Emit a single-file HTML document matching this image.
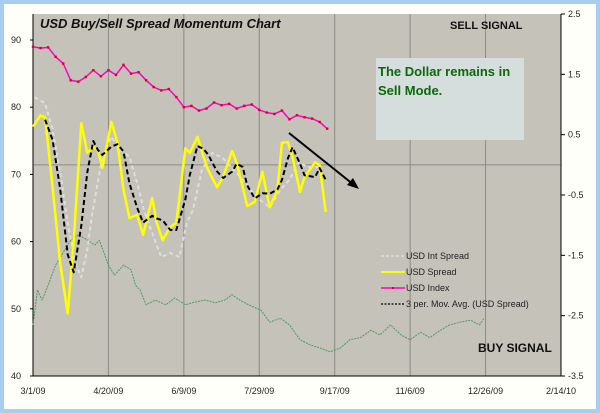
<!DOCTYPE html>
<html><head><meta charset="utf-8"><style>
html,body{margin:0;padding:0;background:#a8cdf0;}
svg{display:block;font-family:"Liberation Sans",sans-serif;}
</style></head><body>
<svg id="chart" width="600" height="413" viewBox="0 0 600 413">
<rect x="4" y="4" width="592" height="405" fill="#fffffa"/>
<rect x="33" y="14" width="528" height="362" fill="#c4c2b9"/>
<g id="grid"></g>
<g id="axes"></g>
<g id="series"></g>
<text x="40" y="28" font-size="13" font-weight="bold" font-style="italic" fill="#111">USD Buy/Sell Spread Momentum Chart</text>
<text x="450" y="29" font-size="11" font-weight="bold" fill="#111">SELL SIGNAL</text>
<text x="478" y="352" font-size="12" font-weight="bold" fill="#111">BUY SIGNAL</text>
<g>
<rect x="376" y="58" width="148" height="82" fill="#d5dddd"/>
<text x="378" y="76" font-size="13" font-weight="bold" fill="#0a6a0a">The Dollar remains in</text>
<text x="378" y="95" font-size="13" font-weight="bold" fill="#0a6a0a">Sell Mode.</text>
</g>
<g>
<line x1="289" y1="133" x2="354" y2="185" stroke="#000" stroke-width="2"/>
<polygon points="359,189 347,185 353,178" fill="#000"/>
</g>
<g font-size="9" fill="#222">
<g><line x1="381" y1="256" x2="405" y2="256" stroke="#e0e0e0" stroke-width="1.5" stroke-dasharray="3,2"/><text x="406" y="259">USD Int Spread</text></g>
<g><line x1="381" y1="272" x2="405" y2="272" stroke="#ffff00" stroke-width="2"/><text x="406" y="275">USD Spread</text></g>
<g><line x1="381" y1="288" x2="405" y2="288" stroke="#ff00cc" stroke-width="1.5"/><rect x="392" y="287" width="2" height="2" fill="#e00"/><text x="406" y="291">USD Index</text></g>
<g><line x1="381" y1="304" x2="405" y2="304" stroke="#000" stroke-width="1.2" stroke-dasharray="2,1.5"/><text x="406" y="307">3 per. Mov. Avg. (USD Spread)</text></g>
</g>
</svg>
<script>
const xTickLabels=["3/1/09","4/20/09","6/9/09","7/29/09","9/17/09","11/6/09","12/26/09","2/14/10"];
const leftTicks=[40,50,60,70,80,90];
const rightTicks=[-3.5,-2.5,-1.5,-0.5,0.5,1.5,2.5];
const indexDays=[0,5,10,15,20,25,30,35,40,45,50,55,60,65,70,75,80,85,90,95,100,105,110,115,120,125,130,135,140,145,150,155,160,165,170,175,180,185,190,195];
const indexValues=[89,88.8,88.9,87.5,86.5,84,83.8,84.5,85.5,84.6,85.5,84.8,86.3,85,85.2,84,83,82.5,82.7,81.5,80,80.2,79.5,79.8,80.7,80.3,80.5,79.8,80.2,80.4,79.6,79.2,79,79.5,78.2,78.8,78.5,78.3,77.8,76.8];
const spreadDays=[0,5,8,13,18,23,27,32,36,40,43,46,52,56,60,64,69,73,79,82,86,91,95,101,104,109,113,116,122,126,132,135,139,142,147,152,157,162,165,169,172,177,180,187,190,194];
const spreadValues=[77.1,78.8,78.5,68.1,56.8,49.3,60.2,77.6,73.2,74.1,73.6,71.0,77.8,74.7,67.7,63.5,64.0,61.0,66.5,62.8,60.2,62.2,62.8,73.9,73.2,75.6,72.6,70.7,68.1,69.6,73.5,71.7,68.1,65.3,65.9,70.4,65.1,67.7,74.7,74.8,72.6,67.4,69.6,71.8,71.4,64.4];
const intDays=[1,8,13,18,23,28,32,36,39,42,46,52,58,64,69,74,80,85,91,97,102,106,112,119,126,133,139,148,157,164,170,176,182,189];
const intValues=[81.5,80.6,76.6,70.2,62.8,56.8,54.7,58.8,63.7,67.7,72.6,75.6,73.6,72.6,68.7,64.3,60.7,57.7,58.3,57.7,62.8,64.7,70.7,73.2,72.4,70.7,69.2,66.6,65.1,67.7,69.2,71.8,71.1,71.1];
const greenDays=[0,3,6,10,15,19,25,30,34,41,44,50,54,60,65,68,71,75,81,88,94,101,107,114,121,127,132,137,143,151,157,164,170,177,184,190,197,204,210,217,224,230,237,244,250,257,263,270,276,283,290,296,299];
const greenValues=[47.6,52.8,51.3,53.5,56.5,58.0,60.2,61.0,60.5,59.5,60.2,56.5,55.0,56.5,55.8,53.5,52.8,50.6,51.3,50.6,51.6,50.6,51.0,51.3,50.9,51.3,52.1,51.3,50.6,49.8,48.0,48.6,47.6,45.4,44.6,44.2,43.6,44.2,45.4,45.7,46.8,46.1,47.6,46.1,45.4,46.5,45.7,46.8,47.6,48.0,48.3,47.6,48.6];

const NS="http://www.w3.org/2000/svg";
const X0=33,X1=561,Y0=14,Y1=376,DAYS=350;
const xs=d=>X0+d*(X1-X0)/DAYS;
const yl=v=>376-(v-40)*6.72;
const yr=v=>Y1-(v+3.5)*(Y1-Y0)/6;
function mk(tag,attrs,parent){const e=document.createElementNS(NS,tag);for(const k in attrs)e.setAttribute(k,attrs[k]);parent.appendChild(e);return e;}
const grid=document.getElementById('grid'),axes=document.getElementById('axes'),series=document.getElementById('series');
xTickLabels.forEach((t,i)=>{const x=xs(i*50);
 if(i>0&&i<7){const g=mk('line',{x1:x,y1:Y0,x2:x,y2:Y1,stroke:'#8a8a86','stroke-width':1},grid);
 
 }
 const tx=mk('text',{x:x,y:394,'font-size':9,'text-anchor':'middle',fill:'#222'},axes);tx.textContent=t;
 
 
});
const zl=mk('line',{x1:X0,y1:yr(0),x2:X1,y2:yr(0),stroke:'#8a8a86','stroke-width':1},grid);


mk('line',{x1:X0,y1:Y0,x2:X0,y2:Y1,stroke:'#000'},axes);
mk('line',{x1:X1,y1:Y0,x2:X1,y2:Y1,stroke:'#000'},axes);
mk('line',{x1:X0,y1:Y1,x2:X1,y2:Y1,stroke:'#000'},axes);
leftTicks.forEach(v=>{const y=yl(v);mk('line',{x1:X0-3,y1:y,x2:X0,y2:y,stroke:'#000'},axes);
 const t=mk('text',{x:16,y:y+3,'font-size':9,'text-anchor':'middle',fill:'#222'},axes);t.textContent=v;
 
 });
rightTicks.forEach(v=>{const y=yr(v);mk('line',{x1:X1,y1:y,x2:X1+4,y2:y,stroke:'#000'},axes);
 const t=mk('text',{x:X1+7,y:y+3,'font-size':9,fill:'#222'},axes);t.textContent=v;
 
 });
function path(days,vals,attrs,name){const d=days.map((dd,i)=>(i?'L':'M')+xs(dd).toFixed(1)+','+yl(vals[i]).toFixed(1)).join('');
 const p=mk('path',Object.assign({d:d,fill:'none','stroke-linejoin':'round'},attrs),series);
 
 return p;}
path(greenDays,greenValues,{stroke:'#4f9a66','stroke-width':1,'stroke-dasharray':'2,1'},'green-dashed-series');
path(intDays,intValues,{stroke:'#dedede','stroke-width':2,'stroke-dasharray':'4,3'},'usd-int-spread-line');
path(spreadDays,spreadValues,{stroke:'#ffff00','stroke-width':2.5},'usd-spread-line');
const maDays=[],maVals=[];
for(let i=2;i<spreadValues.length;i++){maDays.push(spreadDays[i]);maVals.push((spreadValues[i]+spreadValues[i-1]+spreadValues[i-2])/3);}
path(maDays,maVals,{stroke:'#000','stroke-width':2,'stroke-dasharray':'5,3'},'moving-average-line');
path(indexDays,indexValues,{stroke:'#ff00cc','stroke-width':1.5},'usd-index-line');
indexDays.forEach((d,i)=>{const r=mk('rect',{x:xs(d)-1.2,y:yl(indexValues[i])-1.2,width:2.4,height:2.4,fill:'#e00020'},series);
 
 });
</script>
</body></html>
